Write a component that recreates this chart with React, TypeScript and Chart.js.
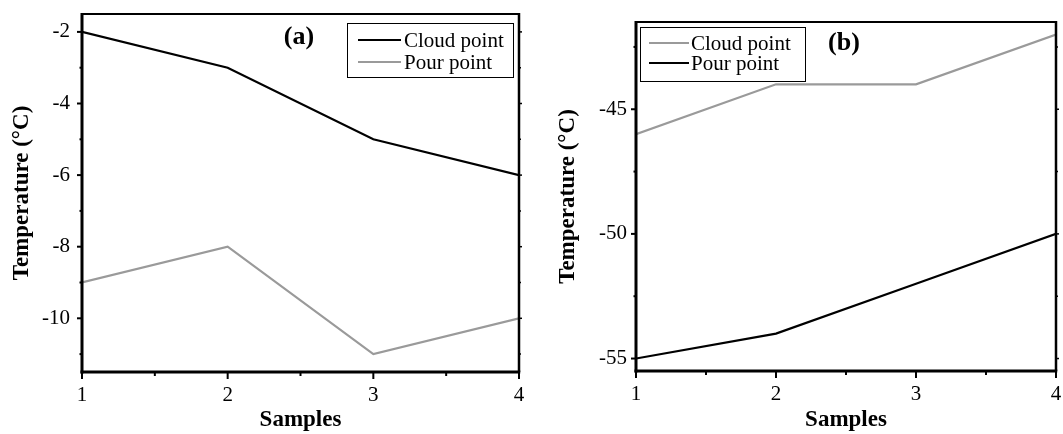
import React, { useEffect, useRef } from 'react';
import { Chart, registerables } from 'chart.js';

Chart.register(...registerables);

// ---- data ----
const samples = [1, 2, 3, 4];
const seriesNames = ['Cloud point', 'Pour point'];
const aCloud = [-2, -3, -5, -6];
const aPour = [-9, -8, -11, -10];
const bCloud = [-46, -44, -44, -42];
const bPour = [-55, -54, -52, -50];
const xMajor = [1, 2, 3, 4];
const xMinor = [1.5, 2.5, 3.5];
const aYMajor = [-10, -8, -6, -4, -2];
const aYMinor = [-11, -9, -7, -5, -3];
const bYMajor = [-55, -50, -45];
const bYMinor = [-52.5, -47.5, -42.5];
const panelLabels = ['(a)', '(b)'];
const xTitle = 'Samples';
const yTitle = 'Temperature (°C)';

const FONT = "'Liberation Serif', 'Times New Roman', serif";
const BLACK = '#000000';
const GRAY = '#9a9a9a';

const decor = {
  id: 'decor',
  afterDraw(chart: any, _args: any, opts: any) {
    const { ctx, chartArea: ca, scales } = chart;
    const xs = scales.x;
    const ys = scales.y;
    ctx.save();
    ctx.strokeStyle = '#000';
    const seg = (x1: number, y1: number, x2: number, y2: number, w: number) => {
      ctx.lineWidth = w;
      ctx.beginPath();
      ctx.moveTo(x1, y1);
      ctx.lineTo(x2, y2);
      ctx.stroke();
    };
    // x ticks (bottom)
    opts.xMajor.forEach((v: number) => {
      const p = xs.getPixelForValue(v);
      seg(p, ca.bottom, p, ca.bottom + 7, 2);
    });
    opts.xMinor.forEach((v: number) => {
      const p = xs.getPixelForValue(v);
      seg(p, ca.bottom, p, ca.bottom + 4, 2);
    });
    // y ticks left and right
    opts.yMajor.forEach((v: number) => {
      const p = ys.getPixelForValue(v);
      seg(ca.left - 5, p, ca.left, p, 2);
      seg(ca.right, p, ca.right + 3, p, 1.5);
    });
    opts.yMinor.forEach((v: number) => {
      const p = ys.getPixelForValue(v);
      seg(ca.left - 2.5, p, ca.left, p, 2);
      seg(ca.right, p, ca.right + 2, p, 1.5);
    });
    // frame
    seg(ca.left, ca.top, ca.right, ca.top, 2);
    seg(ca.right, ca.top - 1, ca.right, ca.bottom, 2.5);
    seg(ca.left, ca.top - 1, ca.left, ca.bottom + 1.5, 3);
    seg(ca.left - 1.5, ca.bottom, ca.right + 1.25, ca.bottom, 3);

    // legend
    const lg = opts.legend;
    ctx.fillStyle = '#fff';
    ctx.fillRect(lg.x1, lg.y1, lg.x2 - lg.x1, lg.y2 - lg.y1);
    ctx.lineWidth = 1;
    ctx.strokeStyle = '#000';
    ctx.strokeRect(lg.x1 + 0.5, lg.y1 + 0.5, lg.x2 - lg.x1, lg.y2 - lg.y1);
    ctx.font = `21px ${FONT}`;
    ctx.textBaseline = 'middle';
    ctx.textAlign = 'left';
    chart.data.datasets.forEach((ds: any, i: number) => {
      const yy = lg.rows[i];
      ctx.strokeStyle = ds.borderColor;
      ctx.lineWidth = 2.2;
      ctx.beginPath();
      ctx.moveTo(lg.lx1, yy);
      ctx.lineTo(lg.lx2, yy);
      ctx.stroke();
      ctx.fillStyle = '#000';
      ctx.fillText(ds.label, lg.tx, yy + 1);
    });

    // panel label
    ctx.font = `bold 26px ${FONT}`;
    ctx.textAlign = 'center';
    ctx.fillStyle = '#000';
    ctx.fillText(opts.label.text, opts.label.x, opts.label.y);
    ctx.restore();
  },
};

type PanelProps = {
  width: number;
  left: number;
  cloud: number[];
  pour: number[];
  cloudColor: string;
  pourColor: string;
  yMin: number;
  yMax: number;
  yMajor: number[];
  yMinor: number[];
  areaLeft: number;
  areaTop: number;
  areaBottom: number;
  padRight: number;
  yTickPad: number;
  yTitlePad: number;
  legend: any;
  label: any;
};

function Panel(p: PanelProps) {
  const ref = useRef<HTMLCanvasElement | null>(null);
  useEffect(() => {
    if (!ref.current) return;
    const zeroPad = (s: any) => {
      s.paddingTop = 0;
      s.paddingBottom = 0;
      s.paddingLeft = 0;
      s.paddingRight = 0;
    };
    const chart = new Chart(ref.current, {
      type: 'line',
      data: {
        datasets: [
          {
            label: seriesNames[0],
            data: samples.map((s, i) => ({ x: s, y: p.cloud[i] })),
            borderColor: p.cloudColor,
            backgroundColor: p.cloudColor,
            borderWidth: 2.2,
            pointRadius: 0,
            tension: 0,
          },
          {
            label: seriesNames[1],
            data: samples.map((s, i) => ({ x: s, y: p.pour[i] })),
            borderColor: p.pourColor,
            backgroundColor: p.pourColor,
            borderWidth: 2.2,
            pointRadius: 0,
            tension: 0,
          },
        ],
      },
      options: {
        responsive: false,
        animation: false,
        devicePixelRatio: 1,
        layout: { padding: { top: p.areaTop, right: p.padRight, left: 0, bottom: 0 } },
        plugins: {
          legend: { display: false },
          tooltip: { enabled: false },
          decor: {
            xMajor,
            xMinor,
            yMajor: p.yMajor,
            yMinor: p.yMinor,
            legend: p.legend,
            label: p.label,
          },
        } as any,
        scales: {
          x: {
            type: 'linear',
            min: 1,
            max: 4,
            afterBuildTicks: (s: any) => {
              s.ticks = xMajor.map((v) => ({ value: v }));
            },
            afterFit: (s: any) => {
              s.height = 434 - p.areaBottom;
              zeroPad(s);
            },
            grid: { display: false, drawTicks: false, tickLength: 0 },
            border: { display: false },
            ticks: {
              color: '#000',
              font: { family: FONT, size: 21 },
              padding: 11,
              maxRotation: 0,
              autoSkip: false,
            },
            title: {
              display: true,
              text: xTitle,
              color: '#000',
              font: { family: FONT, size: 23, weight: 'bold' },
              padding: { top: 0, bottom: 0 },
            },
          },
          y: {
            type: 'linear',
            min: p.yMin,
            max: p.yMax,
            afterBuildTicks: (s: any) => {
              s.ticks = p.yMajor.map((v) => ({ value: v }));
            },
            afterFit: (s: any) => {
              s.width = p.areaLeft;
              zeroPad(s);
            },
            grid: { display: false, drawTicks: false, tickLength: 0 },
            border: { display: false },
            ticks: {
              color: '#000',
              font: { family: FONT, size: 21 },
              padding: p.yTickPad,
              autoSkip: false,
            },
            title: {
              display: true,
              text: yTitle,
              color: '#000',
              font: { family: FONT, size: 23, weight: 'bold' },
              padding: { top: p.yTitlePad, bottom: 0 },
            },
          },
        },
      } as any,
      plugins: [decor],
    });
    return () => chart.destroy();
  }, []);
  return (
    <canvas
      ref={ref}
      width={p.width}
      height={434}
      style={{ position: 'absolute', left: p.left, top: 0, width: p.width, height: 434 }}
    />
  );
}

export default function App() {
  return (
    <div style={{ position: 'absolute', left: 0, top: 0, width: 1063, height: 434, background: '#fff', overflow: 'hidden' }}>
      <Panel
        width={530}
        left={0}
        cloud={aCloud}
        pour={aPour}
        cloudColor={BLACK}
        pourColor={GRAY}
        yMin={-11.5}
        yMax={-1.5}
        yMajor={aYMajor}
        yMinor={aYMinor}
        areaLeft={82}
        areaTop={14}
        areaBottom={372}
        padRight={11}
        yTickPad={12}
        yTitlePad={8}
        legend={{ x1: 347, y1: 23, x2: 513, y2: 77, lx1: 358, lx2: 401, tx: 404, rows: [40, 62] }}
        label={{ text: panelLabels[0], x: 299, y: 37 }}
      />
      <Panel
        width={533}
        left={530}
        cloud={bCloud}
        pour={bPour}
        cloudColor={GRAY}
        pourColor={BLACK}
        yMin={-55.5}
        yMax={-41.5}
        yMajor={bYMajor}
        yMinor={bYMinor}
        areaLeft={106}
        areaTop={22}
        areaBottom={371}
        padRight={7}
        yTickPad={9}
        yTitlePad={24}
        legend={{ x1: 110, y1: 27, x2: 275, y2: 81, lx1: 119, lx2: 159, tx: 161, rows: [43, 63] }}
        label={{ text: panelLabels[1], x: 314, y: 43 }}
      />
    </div>
  );
}
